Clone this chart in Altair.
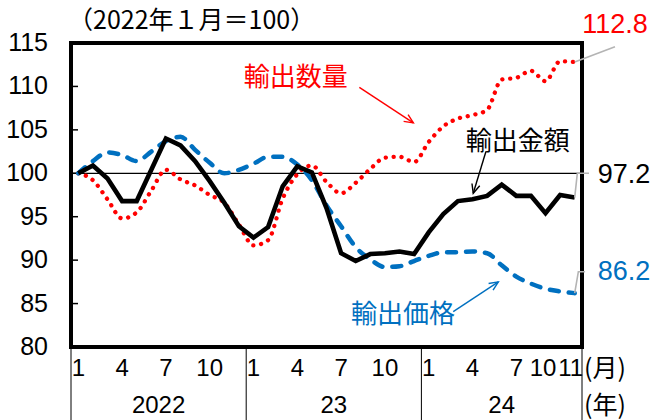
import math
import altair as alt
import pandas as pd

# Monthly indices, Jan 2022 = 100 (index 0 = Jan 2022 ... 34 = Nov 2024)
months = list(range(35))
export_value = [100.0, 100.9, 99.4, 96.8, 96.8, 100.4, 104.0, 103.2, 101.4, 99.1,
                96.6, 93.9, 92.6, 93.8, 98.5, 100.8, 100.1, 96.0, 90.8, 89.9,
                90.7, 90.8, 91.0, 90.7, 93.2, 95.3, 96.8, 97.0, 97.4, 98.7,
                97.4, 97.4, 95.4, 97.5, 97.2]
export_volume = [100.0, 99.2, 97.0, 94.8, 95.5, 98.0, 100.4, 99.3, 98.6, 97.5,
                 96.6, 94.1, 91.7, 92.3, 97.1, 99.9, 100.9, 99.0, 97.7, 98.9,
                 100.5, 101.8, 101.9, 101.3, 103.6, 105.4, 106.3, 106.7, 107.3, 110.8,
                 111.0, 111.8, 110.6, 112.9, 112.8]
export_price = [100.0, 101.4, 102.4, 102.1, 101.4, 102.5, 103.7, 104.2, 102.7, 101.2,
                100.0, 100.4, 101.1, 101.9, 101.9, 101.0, 99.2, 96.3, 93.9, 91.5,
                90.1, 89.2, 89.3, 89.9, 90.5, 90.9, 90.9, 91.0, 90.8, 89.4,
                88.1, 87.3, 86.7, 86.4, 86.2]

series_names = ["輸出金額", "輸出数量", "輸出価格"]
series_colors = ["#000000", "#FF0000", "#0070C0"]

month_ticks = [0, 3, 6, 9, 12, 15, 18, 21, 24, 27, 30]
month_tick_labels = ["1", "4", "7", "10", "1", "4", "7", "10", "1", "4", "7"]
tail_ticks = [33, 34]
tail_labels = ["10", "11"]
year_centers = [5.5, 17.5, 29.0]
year_labels = ["2022", "23", "24"]
year_bounds = [-0.5, 11.5, 23.5, 34.5]
y_ticks = [80, 85, 90, 95, 100, 105, 110, 115]

W, H = 511, 304
X_DOMAIN = [-0.5, 34.5]
Y_DOMAIN = [80, 115]
NUM_FONT = "Liberation Sans"
CJK = "Noto Sans CJK JP"

xs = alt.Scale(domain=X_DOMAIN, nice=False, zero=False)
ys = alt.Scale(domain=Y_DOMAIN, nice=False, zero=False)


def X(field):
    return alt.X(f"{field}:Q", scale=xs, axis=None)


def Y(field):
    return alt.Y(f"{field}:Q", scale=ys, axis=None)


def frame(series):
    return pd.DataFrame({"m": months, "v": series})


# 100 reference line
ref = alt.Chart(pd.DataFrame({"v": [100]})).mark_rule(
    color="black", strokeWidth=1.3
).encode(y=Y("v"), x=alt.value(0), x2=alt.value(W))

# inner ticks on the left edge and the value labels beside them
tick_df = pd.DataFrame({"v": y_ticks, "t": [str(v) for v in y_ticks]})
yticks = alt.Chart(tick_df).mark_rule(color="black", strokeWidth=1.5).encode(
    y=Y("v"), x=alt.value(0), x2=alt.value(7)
)
ylabels = alt.Chart(tick_df).mark_text(
    font=NUM_FONT, fontSize=25, align="right", baseline="middle", color="black"
).encode(y=Y("v"), x=alt.value(-23), text="t:N")

volume_line = alt.Chart(frame(export_volume)).mark_line(
    color=series_colors[1], strokeWidth=4.3, strokeDash=[0.1, 7.8],
    strokeCap="round", interpolate="monotone"
).encode(x=X("m"), y=Y("v"))

price_line = alt.Chart(frame(export_price)).mark_line(
    color=series_colors[2], strokeWidth=4.5, strokeDash=[9, 10],
    strokeCap="round", interpolate="monotone"
).encode(x=X("m"), y=Y("v"))

value_line = alt.Chart(frame(export_value)).mark_line(
    color=series_colors[0], strokeWidth=4.6, strokeJoin="miter"
).encode(x=X("m"), y=Y("v"))

# series name labels
names_df = pd.DataFrame({
    "name": series_names,
    "x": [30.1, 14.9, 22.24],
    "y": [103.6, 111.0, 83.7],
    "c": series_colors,
})
names = alt.Chart(names_df).mark_text(
    font=CJK, fontSize=26, align="center", baseline="middle"
).encode(x=X("x"), y=Y("y"), text="name:N",
         color=alt.Color("c:N", scale=None))

# arrows from the names to their lines
arrows_df = pd.DataFrame({
    "x": [27.92, 19.25, 25.68],
    "y": [102.5, 109.9, 84.07],
    "x2": [27.05, 22.95, 28.77],
    "y2": [97.7, 105.8, 87.5],
    "c": series_colors,
})
px_x = W / (X_DOMAIN[1] - X_DOMAIN[0])
px_y = H / (Y_DOMAIN[1] - Y_DOMAIN[0])
arrows_df["angle"] = [
    math.degrees(math.atan2((x2 - x1) * px_x, (y2 - y1) * px_y)) % 360
    for x1, y1, x2, y2 in zip(arrows_df.x, arrows_df.y, arrows_df.x2, arrows_df.y2)
]
arrow_shafts = alt.Chart(arrows_df).mark_rule(strokeWidth=1.4).encode(
    x=X("x"), y=Y("y"), x2="x2:Q", y2="y2:Q",
    color=alt.Color("c:N", scale=None),
)
arrow_heads = alt.Chart(arrows_df).mark_point(
    shape="M-0.45,1L0,0L0.45,1", size=324, filled=False, strokeWidth=1.4, opacity=1
).encode(
    x=X("x2"), y=Y("y2"),
    angle=alt.Angle("angle:Q", scale=None),
    color=alt.Color("c:N", scale=None),
)

# end-of-series value labels and their gray leaders
last_values = [export_value[-1], export_volume[-1], export_price[-1]]
end_df = pd.DataFrame({
    "txt": [f"{v:.1f}" for v in last_values],
    "x": [37.38, 36.76, 37.38],
    "y": [99.8, 117.07, 88.64],
    "c": series_colors,
})
end_labels = alt.Chart(end_df).mark_text(
    font=NUM_FONT, fontSize=27, align="center", baseline="middle"
).encode(x=X("x"), y=Y("y"), text="txt:N",
         color=alt.Color("c:N", scale=None))

leaders_df = pd.DataFrame({
    "g": ["a", "a", "a", "b", "b", "c", "c", "c"],
    "o": [0, 1, 2, 0, 1, 0, 1, 2],
    "x": [34.0, 34.18, 34.98, 34.0, 36.76, 34.0, 34.25, 34.71],
    "y": [export_value[-1], 100.0, 100.0, export_volume[-1], 114.57,
          export_price[-1], 88.67, 88.67],
})
leaders = alt.Chart(leaders_df).mark_line(color="#B4B4B4", strokeWidth=1.6).encode(
    x=X("x"), y=Y("y"), detail="g:N", order="o:Q"
)

# month / year labels below the plot
MONTH_Y, YEAR_Y = 326, 363


def month_text(ticks, labels, dx=0):
    return alt.Chart(pd.DataFrame({"m": ticks, "t": labels})).mark_text(
        font=NUM_FONT, fontSize=24, baseline="middle", align="center",
        color="black", dx=dx
    ).encode(x=X("m"), y=alt.value(MONTH_Y), text="t:N")


month_labels = month_text(month_ticks, month_tick_labels)
oct_label = month_text([tail_ticks[0]], [tail_labels[0]], dx=-17)
nov_label = month_text([tail_ticks[1]], [tail_labels[1]], dx=-4)

year_text = alt.Chart(pd.DataFrame({"m": year_centers, "t": year_labels})).mark_text(
    font=NUM_FONT, fontSize=24, baseline="middle", align="center", color="black"
).encode(x=X("m"), y=alt.value(YEAR_Y), text="t:N")
year_sep = alt.Chart(pd.DataFrame({"m": year_bounds})).mark_rule(
    color="black", strokeWidth=1
).encode(x=X("m"), y=alt.value(H + 2), y2=alt.value(H + 80))

unit_text = alt.Chart(pd.DataFrame({"t": ["(月)", "(年)"], "yy": [MONTH_Y, YEAR_Y]})).mark_text(
    font=CJK, fontSize=25, align="left", baseline="middle", color="black"
).encode(x=alt.value(W + 2), y=alt.Y("yy:Q", scale=None), text="t:N")

title_text = alt.Chart(pd.DataFrame({"t": ["（2022年１月＝100）"]})).mark_text(
    font=CJK, fontSize=25, align="left", baseline="middle", color="black"
).encode(x=alt.value(-3), y=alt.value(-22), text="t:N")

chart = alt.layer(
    ref, yticks, ylabels, volume_line, price_line, value_line,
    names, arrow_shafts, arrow_heads, end_labels, leaders,
    month_labels, oct_label, nov_label, year_text, year_sep, unit_text, title_text,
).properties(
    width=W, height=H,
    autosize=alt.AutoSizeParams(type="none"),
    padding={"left": 71, "top": 43, "right": 72, "bottom": 73},
    background="white",
).configure_view(stroke="black", strokeWidth=4)

chart.save("out.html", embed_options={"renderer": "svg", "actions": False})
